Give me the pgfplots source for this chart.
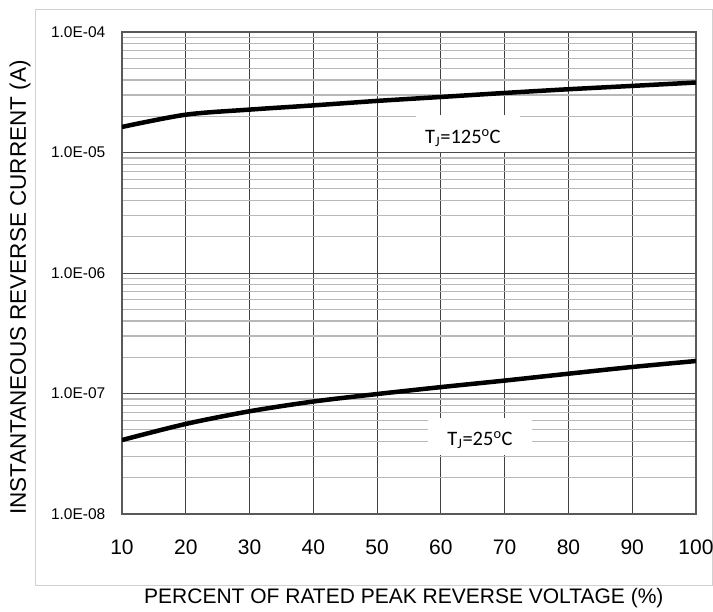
\documentclass[border=0pt]{standalone}
\usepackage{fontspec}
\setmainfont{Liberation Sans}
\newfontfamily\calib{Carlito}
\usepackage{pgfplots}
\pgfplotsset{compat=1.18}

\begin{document}
\begin{tikzpicture}
  % picture size follows the reference (1pt = 1px)
  \path[use as bounding box] (-122pt,-98pt) rectangle (591pt,514pt);
  \draw[black!18, line width=1pt] (-86pt,-72pt) rectangle (590pt,504pt);
  \begin{axis}[
      scale only axis,
      width=574pt, height=482pt,
      ymode=log,
      xmin=10, xmax=100,
      ymin=1e-8, ymax=1e-4,
      xtick={10,20,...,100},
      ytick={1e-8,1e-7,1e-6,1e-5,1e-4},
      yticklabels={1.0E-08,1.0E-07,1.0E-06,1.0E-05,1.0E-04},
      minor ytick={2e-8,3e-8,4e-8,5e-8,6e-8,7e-8,8e-8,9e-8,
                   2e-7,3e-7,4e-7,5e-7,6e-7,7e-7,8e-7,9e-7,
                   2e-6,3e-6,4e-6,5e-6,6e-6,7e-6,8e-6,9e-6,
                   2e-5,3e-5,4e-5,5e-5,6e-5,7e-5,8e-5,9e-5},
      /pgf/number format/assume math mode=true,
      major tick length=0pt, minor tick length=0pt,
      xmajorgrids, ymajorgrids, yminorgrids,
      major x grid style={black!75, line width=0.8pt},
      major y grid style={black!70, line width=1pt},
      minor y grid style={black!28, line width=1.3pt},
      axis line style={black!65, line width=1.3pt},
      xticklabel style={font=\fontsize{21}{25}\selectfont, anchor=north, inner sep=0pt, yshift=-26pt},
      yticklabel style={font=\fontsize{15.5}{18}\selectfont, anchor=east, inner sep=0pt, xshift=-16.5pt},
      xlabel={PERCENT OF RATED PEAK REVERSE VOLTAGE (\%)},
      ylabel={INSTANTANEOUS REVERSE CURRENT (A)},
      every axis x label/.style={at={(axis description cs:0.491,-0.1743)}, anchor=center,
        font=\fontsize{21}{25}\selectfont},
      every axis y label/.style={at={(axis description cs:-0.1777,0.47)}, rotate=90, anchor=center,
        font=\fontsize{22.5}{26}\selectfont},
    ]
    % Tj = 125 C
    \addplot[black, line width=4.5pt, smooth] coordinates {
      (10,1.63e-5) (20,2.06e-5) (30,2.27e-5) (40,2.46e-5) (50,2.68e-5)
      (60,2.89e-5) (70,3.12e-5) (80,3.35e-5) (90,3.57e-5) (100,3.81e-5)
    };
    % Tj = 25 C
    \addplot[black, line width=4.5pt, smooth] coordinates {
      (10,4.11e-8) (20,5.59e-8) (30,7.12e-8) (40,8.58e-8) (50,9.9e-8)
      (60,1.13e-7) (70,1.28e-7) (80,1.46e-7) (90,1.66e-7) (100,1.86e-7)
    };
    \node[fill=white, minimum width=104pt, minimum height=37pt, inner sep=0pt] at (axis cs:64.25,1.44e-5) {};
    \node[font=\calib\fontsize{20.5}{24}\selectfont, inner sep=0pt] at (axis cs:63.46,1.32e-5)
      {T\textsubscript{J}=125\textsuperscript{o}C};
    \node[fill=white, minimum width=104pt, minimum height=37pt, inner sep=0pt] at (axis cs:66.13,4.40e-8) {};
    \node[font=\calib\fontsize{20.5}{24}\selectfont, inner sep=0pt] at (axis cs:66.13,4.11e-8)
      {T\textsubscript{J}=25\textsuperscript{o}C};
  \end{axis}
\end{tikzpicture}
\end{document}
